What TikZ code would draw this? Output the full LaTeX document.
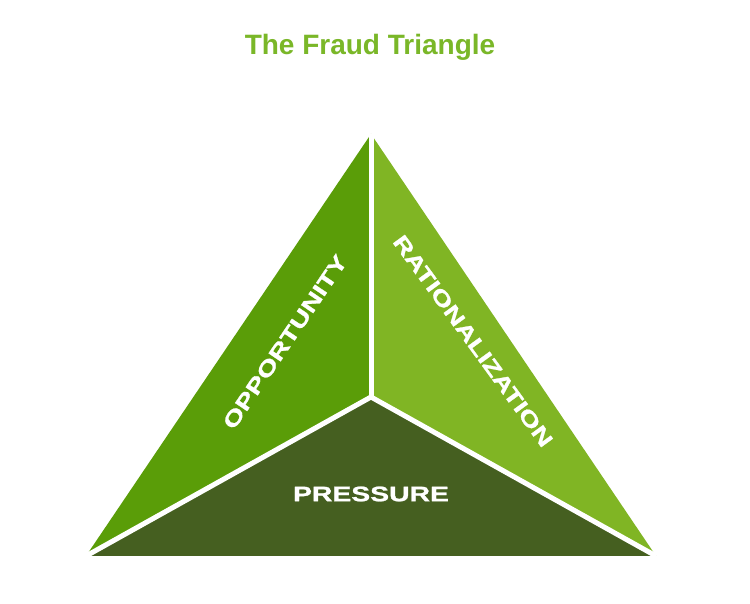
\documentclass[tikz,border=0pt]{standalone}
\usepackage{fontspec}
\setmainfont{Liberation Sans}
\newfontfamily\widefont{Liberation Sans Bold}[FakeStretch=1.35,FakeBold=1.2]
\definecolor{oppgreen}{RGB}{90,157,8}
\definecolor{ratgreen}{RGB}{128,181,36}
\definecolor{presgreen}{RGB}{69,95,32}
\definecolor{titlegreen}{RGB}{122,183,40}
\begin{document}
\begin{tikzpicture}[x=1pt,y=1pt,
  lbl/.style={text=white,font=\widefont\fontsize{21}{21}\selectfont,inner sep=0pt},
  sep/.style={draw=white,line width=5pt}]
\useasboundingbox[fill=white] (0,0) rectangle (750,604);
\coordinate (A) at (371,470);
\coordinate (B) at (86,48);
\coordinate (C) at (656,48);
\coordinate (O) at (371,207);
\fill[oppgreen] (A) -- (B) -- (O) -- cycle;
\fill[ratgreen] (A) -- (O) -- (C) -- cycle;
\fill[presgreen] (B) -- (C) -- (O) -- cycle;
\draw[sep] (O) -- (A);
\draw[sep] (O) -- (B);
\draw[sep] (O) -- (C);
\node[font=\fontsize{28}{28}\selectfont\bfseries,text=titlegreen] (title) at (370,557) {The Fraud Triangle};
\node[lbl] (pres) at (371,110) {PRESSURE};
\node[lbl,rotate=56] (opp) at (285,262) {OPPORTUNITY};
\node[lbl,rotate=-54] (rat) at (473,263) {RATIONALIZATION};
\end{tikzpicture}
\end{document}
